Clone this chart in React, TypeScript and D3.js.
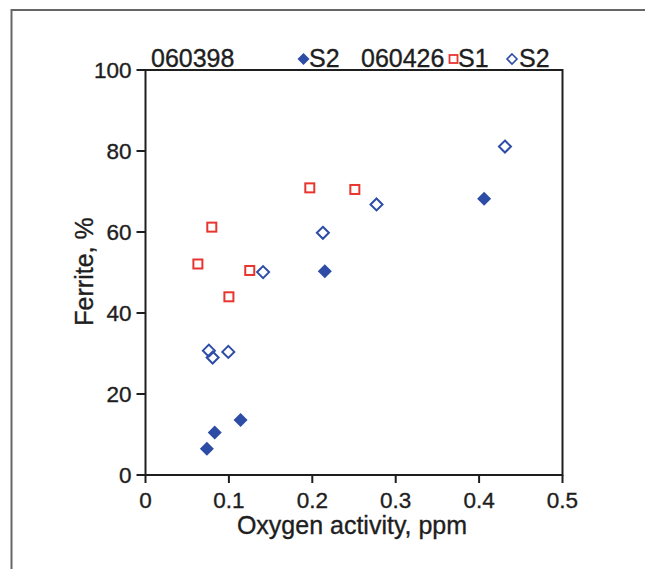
import React from "react";
import * as d3 from "d3";

const s2_060398_x = [0.0736, 0.083, 0.114, 0.215, 0.406];
const s2_060398_y = [6.5, 10.5, 13.6, 50.3, 68.2];

const s1_060426_x = [0.0628, 0.0795, 0.1, 0.125, 0.197, 0.251];
const s1_060426_y = [52.1, 61.2, 44.0, 50.5, 70.9, 70.5];

const s2_060426_x = [0.076, 0.0805, 0.0993, 0.141, 0.2127, 0.277, 0.431];
const s2_060426_y = [30.7, 29.0, 30.4, 50.1, 59.8, 66.8, 81.1];

const xTicks = [0, 0.1, 0.2, 0.3, 0.4, 0.5];
const yTicks = [0, 20, 40, 60, 80, 100];
const xTickLabels = ["0", "0.1", "0.2", "0.3", "0.4", "0.5"];
const yTickLabels = ["0", "20", "40", "60", "80", "100"];

const BLUE = "#2d4ca6";
const RED = "#e8362f";
const INK = "#1e1e1e";
const FONT = "'Liberation Sans', Arial, Helvetica, sans-serif";

export default function App() {
  const W = 645;
  const H = 569;
  const x = d3.scaleLinear().domain([0, 0.5]).range([145.5, 562.5]);
  const y = d3.scaleLinear().domain([0, 100]).range([475, 70]);

  const diamond = (cx: number, cy: number, r: number) =>
    `M${cx},${cy - r}L${cx + r},${cy}L${cx},${cy + r}L${cx - r},${cy}Z`;

  const txt = { fill: INK, stroke: INK, strokeWidth: 0.35 };

  return (
    <svg
      width={W}
      height={H}
      style={{ position: "absolute", left: 0, top: 0, background: "#fff" }}
      fontFamily={FONT}
    >
      {/* outer frame */}
      <rect x={11.5} y={10} width={700} height={700} fill="none" stroke="#666" strokeWidth={2} />

      {/* plot box */}
      <rect
        x={x(0)}
        y={y(100)}
        width={x(0.5) - x(0)}
        height={y(0) - y(100)}
        fill="none"
        stroke={INK}
        strokeWidth={2}
      />

      {/* x ticks */}
      {xTicks.map((t, i) => (
        <g key={"xt" + i}>
          <line x1={x(t)} x2={x(t)} y1={y(0)} y2={y(0) + 8} stroke={INK} strokeWidth={2} />
          <text x={x(t)} y={y(0) + 33} textAnchor="middle" fontSize={22.5} {...txt}>
            {xTickLabels[i]}
          </text>
        </g>
      ))}

      {/* y ticks */}
      {yTicks.map((t, i) => (
        <g key={"yt" + i}>
          <line x1={x(0) - 9} x2={x(0)} y1={y(t)} y2={y(t)} stroke={INK} strokeWidth={2} />
          <text x={x(0) - 14} y={y(t) + 8} textAnchor="end" fontSize={22.5} {...txt}>
            {yTickLabels[i]}
          </text>
        </g>
      ))}

      {/* axis titles */}
      <text x={352} y={534} textAnchor="middle" fontSize={25} {...txt}>
        Oxygen activity, ppm
      </text>
      <text
        transform={`translate(93,${y(50) - 1}) rotate(-90)`}
        textAnchor="middle"
        fontSize={25}
        {...txt}
      >
        Ferrite, %
      </text>

      {/* legend */}
      <text x={151} y={66.5} fontSize={25} {...txt}>060398</text>
      <path d={diamond(303.5, 59, 6)} fill={BLUE} />
      <text x={309} y={66.5} fontSize={25} {...txt}>S2</text>
      <text x={361} y={66.5} fontSize={25} {...txt}>060426</text>
      <rect x={449.5} y={55} width={8} height={8} fill="none" stroke={RED} strokeWidth={1.8} />
      <text x={458} y={66.5} fontSize={25} {...txt}>S1</text>
      <path d={diamond(512, 59, 5)} fill="none" stroke={BLUE} strokeWidth={1.6} />
      <text x={519} y={66.5} fontSize={25} {...txt}>S2</text>

      {/* 060426 S1: open red squares */}
      {s1_060426_x.map((v, i) => (
        <rect
          key={"r" + i}
          x={x(v) - 4.5}
          y={y(s1_060426_y[i]) - 4.5}
          width={9}
          height={9}
          fill="none"
          stroke={RED}
          strokeWidth={2}
        />
      ))}

      {/* 060426 S2: open blue diamonds */}
      {s2_060426_x.map((v, i) => (
        <path
          key={"o" + i}
          d={diamond(x(v), y(s2_060426_y[i]), 6)}
          fill="none"
          stroke={BLUE}
          strokeWidth={2}
        />
      ))}

      {/* 060398 S2: filled blue diamonds */}
      {s2_060398_x.map((v, i) => (
        <path key={"f" + i} d={diamond(x(v), y(s2_060398_y[i]), 7)} fill={BLUE} />
      ))}
    </svg>
  );
}
